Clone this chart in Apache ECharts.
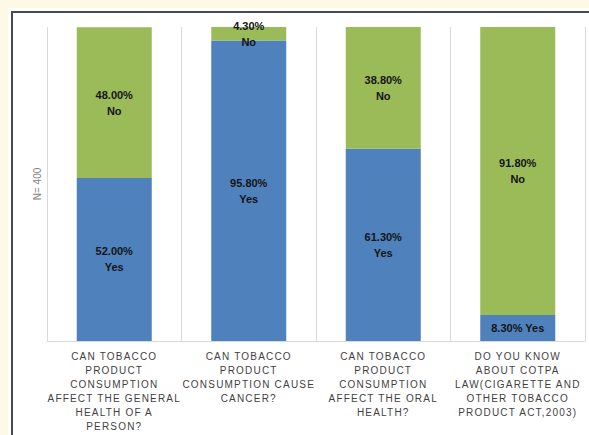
<!DOCTYPE html>
<html>
<head>
<meta charset="utf-8">
<script src="https://cdn.jsdelivr.net/npm/echarts@6/dist/echarts.min.js"></script>
<style>
  html, body { margin: 0; padding: 0; background: #fef9e6; }
  #sheet { position: absolute; left: 8px; top: 8px; width: 600px; height: 500px; background: #ffffff; }
  #frame { position: absolute; left: 11px; top: 11px; width: 600px; height: 500px;
           border-left: 2px solid #4a4a4a; border-top: 2px solid #4a4a4a; box-sizing: border-box; }
  #chart { position: absolute; left: 0; top: 0; width: 589px; height: 435px; }
  /* spaced capitals for the question labels under the bars */
  #chart text[fill="#3f3f3f"], #chart text[fill="rgb(63,63,63)"] { letter-spacing: 1.2px; }
</style>
</head>
<body>
<div id="sheet"></div>
<div id="frame"></div>
<div id="chart"></div>
<script>
// Survey questions (one bar each)
const categories = [
  'CAN TOBACCO\nPRODUCT\nCONSUMPTION\nAFFECT THE GENERAL\nHEALTH OF A\nPERSON?',
  'CAN TOBACCO\nPRODUCT\nCONSUMPTION CAUSE\nCANCER?',
  'CAN TOBACCO\nPRODUCT\nCONSUMPTION\nAFFECT THE ORAL\nHEALTH?',
  'DO YOU KNOW\nABOUT COTPA\nLAW(CIGARETTE AND\nOTHER TOBACCO\nPRODUCT ACT,2003)'
];
// Share of respondents (%)
const yesValues = [52.0, 95.8, 61.3, 8.3];
const noValues = [48.0, 4.3, 38.8, 91.8];
const sampleLabel = 'N= 400';

const totals = yesValues.map((v, i) => v + noValues[i]);
const yMax = Math.max(...totals);

function labelText(name, value) {
  const pct = value.toFixed(2) + '%';
  return value < 10 && name === 'Yes' ? pct + ' ' + name : pct + '\n' + name;
}

const labelStyle = {
  show: true,
  position: 'inside',
  color: '#141414',
  fontFamily: 'Liberation Sans, Arial, sans-serif',
  fontWeight: 'bold',
  fontSize: 11,
  lineHeight: 16
};

const chart = echarts.init(document.getElementById('chart'), null, { renderer: 'svg' });
chart.setOption({
  backgroundColor: 'transparent',
  animation: false,
  grid: { left: 47, right: 4, top: 27, bottom: 94, containLabel: false },
  xAxis: {
    type: 'category',
    data: categories,
    axisLine: { show: true, lineStyle: { color: '#d9d9d9', width: 1 } },
    axisTick: { show: false },
    splitLine: { show: true, lineStyle: { color: '#d9d9d9', width: 1 } },
    axisLabel: {
      interval: 0,
      margin: 8,
      color: '#3f3f3f',
      fontFamily: 'Liberation Sans, Arial, sans-serif',
      fontSize: 10,
      lineHeight: 14
    }
  },
  yAxis: {
    type: 'value',
    min: 0,
    max: yMax,
    name: sampleLabel,
    nameLocation: 'middle',
    nameGap: 5,
    nameRotate: 90,
    nameTextStyle: { color: '#7f7f7f', fontFamily: 'Liberation Sans, Arial, sans-serif', fontSize: 10 },
    axisLine: { show: false },
    axisTick: { show: false },
    axisLabel: { show: false },
    splitLine: { show: false }
  },
  series: [
    {
      name: 'Yes',
      type: 'bar',
      stack: 'answer',
      barWidth: 75,
      data: yesValues,
      itemStyle: { color: '#4f81bd' },
      label: Object.assign({}, labelStyle, { formatter: p => labelText('Yes', p.value) })
    },
    {
      name: 'No',
      type: 'bar',
      stack: 'answer',
      barWidth: 75,
      data: noValues,
      itemStyle: { color: '#9bbb59' },
      label: Object.assign({}, labelStyle, { formatter: p => labelText('No', p.value) })
    }
  ]
});
</script>
</body>
</html>
